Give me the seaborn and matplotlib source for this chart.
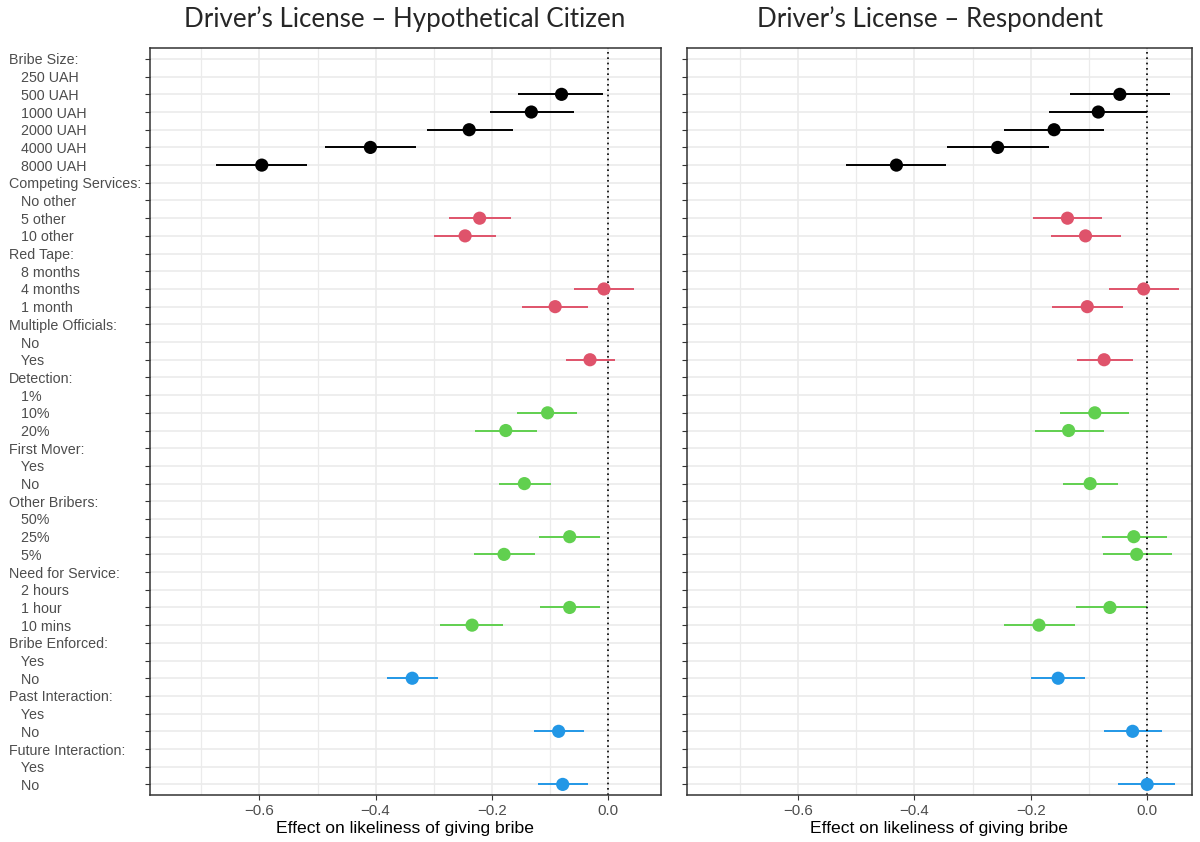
import numpy as np
import pandas as pd
import matplotlib
matplotlib.use("Agg")
import matplotlib.pyplot as plt
import seaborn as sns

# ---- data ----
factors = ["Bribe Size", "Competing Services", "Red Tape", "Multiple Officials",
           "Detection", "First Mover", "Other Bribers", "Need for Service",
           "Bribe Enforced", "Past Interaction", "Future Interaction"]
levels = [["250 UAH", "500 UAH", "1000 UAH", "2000 UAH", "4000 UAH", "8000 UAH"],
          ["No other", "5 other", "10 other"],
          ["8 months", "4 months", "1 month"],
          ["No", "Yes"],
          ["1%", "10%", "20%"],
          ["Yes", "No"],
          ["50%", "25%", "5%"],
          ["2 hours", "1 hour", "10 mins"],
          ["Yes", "No"],
          ["Yes", "No"],
          ["Yes", "No"]]
groups = ["bribe", "context", "context", "context", "risk", "risk", "risk", "risk",
          "relation", "relation", "relation"]

# estimates for every non-baseline level, in order
citizen_est = [-0.080, -0.132, -0.239, -0.409, -0.596, -0.221, -0.246, -0.007, -0.091, -0.031,
               -0.104, -0.176, -0.144, -0.066, -0.179, -0.066, -0.234, -0.337, -0.085, -0.078]
citizen_lo = [-0.155, -0.204, -0.312, -0.487, -0.674, -0.274, -0.299, -0.059, -0.148, -0.073,
              -0.156, -0.229, -0.187, -0.118, -0.231, -0.117, -0.289, -0.381, -0.127, -0.121]
citizen_hi = [-0.009, -0.059, -0.164, -0.331, -0.518, -0.167, -0.193, 0.045, -0.034, 0.012,
              -0.053, -0.123, -0.099, -0.014, -0.126, -0.014, -0.180, -0.292, -0.042, -0.035]

respondent_est = [-0.047, -0.084, -0.160, -0.257, -0.431, -0.137, -0.106, -0.006, -0.103, -0.074,
                  -0.090, -0.135, -0.098, -0.023, -0.018, -0.064, -0.186, -0.153, -0.025, 0.000]
respondent_lo = [-0.133, -0.168, -0.246, -0.344, -0.517, -0.196, -0.165, -0.066, -0.163, -0.121,
                 -0.150, -0.193, -0.145, -0.078, -0.076, -0.123, -0.246, -0.200, -0.074, -0.050]
respondent_hi = [0.039, 0.000, -0.074, -0.168, -0.345, -0.077, -0.045, 0.055, -0.042, -0.025,
                 -0.031, -0.075, -0.050, 0.034, 0.042, 0.000, -0.124, -0.106, 0.025, 0.048]

palette = {"bribe": "#000000", "context": "#DF536B", "risk": "#61D04F", "relation": "#2297E6"}


# ---- build row table ----
def build(est, lo, hi):
    rows, recs = [], []
    k = 0
    for f, lv, g in zip(factors, levels, groups):
        rows.append(f + ":")
        for i, l in enumerate(lv):
            rows.append("   " + l)
            if i > 0:
                recs.append({"y": len(rows) - 1, "est": est[k], "lo": lo[k], "hi": hi[k], "group": g})
                k += 1
    return rows, pd.DataFrame(recs)


row_labels, df_cit = build(citizen_est, citizen_lo, citizen_hi)
_, df_resp = build(respondent_est, respondent_lo, respondent_hi)

sns.set_style("white")
plt.rcParams["font.family"] = ["Liberation Sans", "DejaVu Sans"]

fig = plt.figure(figsize=(12, 8.42), dpi=100)
ax1 = fig.add_axes([0.1247, 0.0558, 0.4258, 0.8868])
ax2 = fig.add_axes([0.5725, 0.0558, 0.4208, 0.8868])

for ax, df, xl in [(ax1, df_cit, (-0.789, 0.0905)), (ax2, df_resp, (-0.791, 0.077))]:
    ax.set_axisbelow(True)
    ax.hlines(df["y"], df["lo"], df["hi"], colors=df["group"].map(palette), lw=1.4, zorder=2)
    sns.scatterplot(data=df, x="est", y="y", hue="group", palette=palette, s=90,
                    edgecolor="none", legend=False, ax=ax, zorder=3)
    ax.axvline(0, color="black", ls=(0, (1, 2.2)), lw=1.2, zorder=2.5)
    ax.set_xlim(*xl)
    ax.set_ylim(len(row_labels) - 1 + 0.6, -0.6)
    ax.set_xticks([-0.6, -0.4, -0.2, 0.0])
    ax.set_xticklabels(["\u22120.6", "\u22120.4", "\u22120.2", "0.0"])
    ax.set_xticks([-0.7, -0.5, -0.3, -0.1], minor=True)
    ax.set_yticks(range(len(row_labels)))
    ax.grid(which="major", color="#EBEBEB", lw=1.2)
    ax.grid(which="minor", axis="x", color="#EBEBEB", lw=0.9)
    ax.tick_params(axis="both", which="major", length=3.5, width=0.8, color="#333333",
                   labelcolor="#4D4D4D", labelsize=10.3, left=True, bottom=True)
    ax.tick_params(axis="x", labelsize=10.8, pad=3)
    ax.tick_params(axis="x", which="minor", length=0)
    for s in ax.spines.values():
        s.set_color("#333333")
        s.set_linewidth(1.1)
    ax.set_xlabel("Effect on likeliness of giving bribe", fontsize=12.6, color="black", labelpad=2)
    ax.set_ylabel("")

ax1.set_yticklabels(row_labels)
ax1.tick_params(axis="y", pad=97.5)
for t in ax1.get_yticklabels():
    t.set_horizontalalignment("left")
ax2.tick_params(axis="y", labelleft=False)

fig.text(0.3375, 0.977, "Driver\u2019s License \u2013 Hypothetical Citizen", ha="center", va="center",
         fontsize=18.6, family=["Lato", "DejaVu Sans"])
fig.text(0.775, 0.977, "Driver\u2019s License \u2013 Respondent", ha="center", va="center",
         fontsize=18.6, family=["Lato", "DejaVu Sans"])

fig.savefig("out.png", dpi=100)
